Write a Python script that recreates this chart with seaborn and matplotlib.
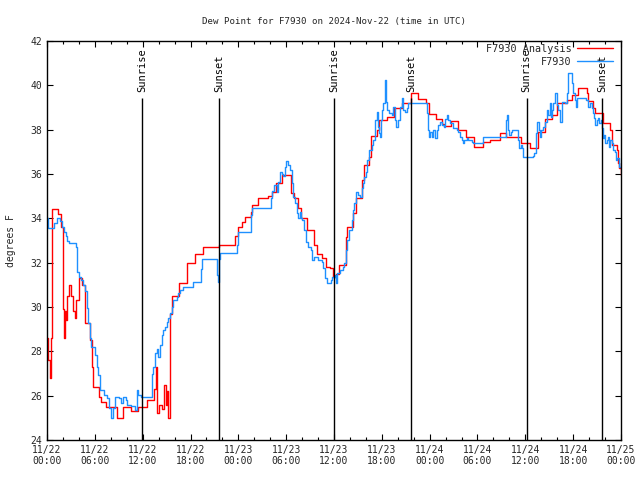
import matplotlib
matplotlib.use("Agg")
import matplotlib.pyplot as plt
from matplotlib.ticker import MultipleLocator
import seaborn as sns
import pandas as pd

# ----------------------------
# data (hours since 11/22 00:00 UTC, degrees F)
# ----------------------------
analysis_hours = [
    0.0, 0.15, 0.35, 0.45, 0.6, 1.38, 1.7, 2.05, 2.13, 2.25, 2.4, 2.55, 2.76, 2.97,
    3.2, 3.47, 3.7, 4.01, 4.4, 4.72, 5.35, 5.6, 5.73, 6.5, 6.73, 7.36, 8.4, 8.74,
    9.53, 10.58, 11.46, 12.59, 13.42, 13.67, 13.85, 14.1, 14.4, 14.72, 14.9, 15.01,
    15.18, 15.43, 15.68, 16.6, 17.52, 18.56, 19.61, 21.62, 23.58, 23.92, 24.42,
    24.84, 25.59, 25.76, 26.51, 27.68, 28.18, 28.68, 29.44, 30.61, 31.03, 31.44,
    31.86, 32.57, 33.53, 33.83, 34.54, 34.96, 35.5, 35.92, 36.25, 36.67, 37.51,
    37.67, 38.43, 38.76, 39.47, 39.76, 40.43, 40.6, 41.35, 41.69, 42.61, 43.53,
    44.49, 45.66, 46.58, 47.54, 47.92, 48.75, 49.59, 49.84, 50.68, 51.51, 52.56,
    53.6, 54.65, 55.57, 56.82, 57.54, 59.5, 60.59, 61.63, 62.47, 63.31, 63.93,
    65.19, 65.81, 66.65, 67.7, 67.9, 68.53, 68.74, 69.79, 70.62, 70.83, 71.46,
    71.67, 71.79, 71.95,
]
analysis_values = [
    28.6, 27.6, 26.8, 28.6, 34.4, 34.2, 33.6, 29.9, 28.6, 29.8, 29.4, 30.5, 31.0, 30.5,
    29.8, 29.5, 30.3, 31.3, 31.0, 29.3, 28.5, 27.3, 26.4, 25.95, 25.7, 25.5, 25.5, 25.0,
    25.5, 25.3, 25.5, 25.8, 26.3, 27.3, 25.2, 25.6, 25.4, 26.5, 25.6, 26.2,
    25.0, 29.7, 30.5, 31.1, 32.0, 32.4, 32.7, 32.8, 33.2, 33.6, 33.85,
    34.08, 34.3, 34.6, 34.9, 35.0, 35.2, 35.58, 35.95, 35.13, 34.9, 34.45,
    34.0, 33.47, 32.8, 32.4, 32.2, 31.8, 31.75, 31.37, 31.5, 31.9, 33.17,
    33.62, 34.22, 34.9, 35.73, 36.4, 36.78, 37.7, 38.0, 38.43, 38.59, 38.96,
    39.19, 39.64, 39.4, 39.2, 38.7, 38.47, 38.26, 38.17, 38.4, 37.99, 37.65,
    37.23, 37.46, 37.53, 37.83, 37.65, 37.38, 37.16, 37.9, 38.47, 38.66, 39.19,
    39.34, 39.56, 39.86, 39.64, 39.3, 38.96, 38.74, 38.29, 38.0, 37.3, 37.08,
    36.48, 36.26, 35.95,
]

station_hours = [
    0.0, 0.13, 0.88, 1.21, 1.63, 1.92, 2.13, 2.34, 2.55, 2.76, 3.6, 3.72, 3.8, 4.01,
    4.31, 4.56, 4.72, 4.98, 5.18, 5.35, 5.56, 5.98, 6.23, 6.44, 6.65, 7.15, 7.48,
    7.78, 7.99, 8.32, 8.49, 9.03, 9.24, 9.49, 9.87, 10.08, 10.58, 11.0, 11.33,
    11.46, 11.75, 13.13, 13.34, 13.55, 13.76, 13.97, 14.17, 14.38, 14.59, 14.8,
    15.01, 15.22, 15.43, 15.64, 15.85, 16.27, 16.47, 16.68, 17.02, 18.36, 19.28,
    19.44, 21.37, 21.49, 21.62, 21.7, 23.79, 24.0, 25.59, 25.76, 28.1, 28.27,
    28.52, 28.81, 29.02, 29.23, 29.44, 29.64, 29.85, 30.02, 30.19, 30.48, 30.69,
    30.82, 31.11, 31.32, 31.53, 31.74, 31.86, 32.03, 32.28, 32.45, 32.78, 33.12,
    33.28, 33.53, 33.95, 34.45, 34.66, 34.87, 35.08, 35.62, 35.79, 36.13, 36.25,
    36.42, 36.75, 37.09, 37.26, 37.51, 37.67, 37.92, 38.22, 38.43, 38.51, 38.76,
    39.05, 39.26, 39.47, 39.6, 39.76, 39.97, 40.18, 40.43, 40.73, 40.93, 41.14,
    41.35, 41.48, 41.6, 41.77, 41.9, 42.06, 42.19, 42.4, 42.52, 42.69, 42.94,
    43.23, 43.44, 43.65, 43.78, 44.07, 44.28, 44.49, 44.7, 44.91, 45.12, 45.32,
    47.63, 47.75, 47.83, 47.92, 48.04, 48.25, 48.46, 48.67, 48.88, 49.09, 49.3,
    49.59, 49.84, 49.92, 50.13, 50.34, 50.55, 50.97, 51.39, 51.6, 51.81, 52.02,
    52.22, 52.35, 52.64, 52.85, 53.27, 53.48, 54.73, 57.54, 57.66, 57.79, 57.95,
    58.2, 58.37, 59.12, 59.25, 59.42, 59.54, 59.75, 60.92, 61.09, 61.34, 61.51,
    61.68, 61.84, 61.93, 62.26, 62.47, 62.68, 62.89, 63.1, 63.26, 63.39, 63.51,
    63.72, 63.93, 64.14, 64.35, 64.56, 64.98, 65.19, 65.4, 65.81, 66.02, 66.23,
    66.36, 66.52, 67.61, 67.9, 68.11, 68.32, 68.53, 68.62, 68.74, 68.95, 69.16,
    69.29, 69.49, 69.66, 69.74, 69.87, 70.04, 70.2, 70.33, 70.46, 70.62, 70.83,
    71.04, 71.25, 71.37, 71.54, 71.71, 71.79, 71.95,
]
station_values = [
    34.0, 33.55, 33.8, 34.03, 33.9, 33.62, 33.4, 33.22, 33.0, 32.9, 32.7, 32.27, 31.6, 31.37,
    31.2, 31.0, 30.7, 29.94, 29.3, 28.59, 28.21, 27.84, 27.3, 26.93, 26.26, 26.03, 25.88,
    25.43, 25.0, 25.43, 25.95, 25.88, 25.65, 25.95, 25.8, 25.6, 25.55, 25.35, 26.26,
    26.03, 25.95, 27.0, 27.3, 27.91, 28.1, 27.75, 28.3, 28.74, 28.97, 29.1,
    29.34, 29.5, 29.72, 30.0, 30.32, 30.47, 30.65, 30.77, 30.89, 31.14, 31.7,
    32.15, 31.44, 31.14, 32.15, 32.42, 32.8, 33.4, 34.15, 34.45, 34.9, 35.25,
    35.5, 35.2, 35.65, 36.1, 36.0, 35.9, 36.33, 36.6, 36.4, 36.2, 35.6,
    34.98, 34.68, 34.23, 34.0, 34.3, 34.0, 33.92, 33.47, 32.95, 32.72, 32.57,
    32.12, 32.27, 32.12, 32.05, 31.75, 31.3, 31.07, 31.22, 31.37, 31.45, 31.1,
    31.52, 31.67, 31.82, 31.97, 32.57, 33.02, 33.47, 33.92, 34.38, 34.68, 35.2,
    35.05, 34.98, 35.36, 35.58, 35.88, 36.1, 36.63, 37.08, 37.3, 37.53, 38.43,
    38.81, 38.13, 37.83, 37.69, 38.43, 38.88, 39.19, 40.24, 39.26, 38.88, 38.74,
    38.66, 39.03, 38.43, 38.14, 38.43, 39.03, 39.41, 38.88, 38.8, 39.0, 39.19,
    38.74, 38.3, 37.99, 37.69, 37.9, 37.69, 37.99, 37.62, 37.99, 38.21, 38.36,
    38.21, 38.14, 38.48, 38.66, 38.43, 38.28, 38.06, 37.99, 37.91, 37.69, 37.53,
    37.38, 37.53, 37.61, 37.53, 37.46, 37.38, 37.65, 38.43, 38.66, 37.99, 37.76,
    37.91, 37.99, 37.53, 37.16, 37.31, 37.16, 36.75, 36.79, 36.94, 37.83, 38.36,
    37.98, 37.68, 37.98, 38.13, 38.36, 38.88, 38.66, 39.19, 38.59, 38.88, 39.19,
    39.64, 39.11, 38.88, 38.36, 39.26, 39.19, 39.64, 40.54, 40.1, 39.64, 39.34,
    39.04, 39.41, 39.34, 39.04, 39.19, 38.96, 38.74, 38.51, 38.21, 38.43, 38.51,
    38.29, 38.43, 38.06, 37.61, 37.76, 37.38, 37.53, 37.68, 37.23, 37.53, 37.38,
    37.08, 37.0, 36.63, 36.71, 36.48, 36.33, 36.5,
]

sun_hours = [11.95, 21.6, 36.0, 45.65, 60.15, 69.65]
sun_labels = ["Sunrise", "Sunset", "Sunrise", "Sunset", "Sunrise", "Sunset"]

tick_hours = list(range(0, 73, 6))
tick_labels = [
    "11/22\n00:00", "11/22\n06:00", "11/22\n12:00", "11/22\n18:00",
    "11/23\n00:00", "11/23\n06:00", "11/23\n12:00", "11/23\n18:00",
    "11/24\n00:00", "11/24\n06:00", "11/24\n12:00", "11/24\n18:00",
    "11/25\n00:00",
]

analysis = pd.DataFrame({"hour": analysis_hours, "dewpoint": analysis_values})
station = pd.DataFrame({"hour": station_hours, "dewpoint": station_values})

# ----------------------------
# plot
# ----------------------------
sns.set_style("ticks")
plt.rcParams["font.family"] = ["DejaVu Sans Mono"]
plt.rcParams["font.size"] = 6.5

fig = plt.figure(figsize=(6.4, 4.8), dpi=100)
ax = fig.add_axes([47 / 640, 1 - 440 / 480, 574 / 640, 399 / 480])

sns.lineplot(data=analysis, x="hour", y="dewpoint", ax=ax, color="#ff0000",
             lw=1.0, drawstyle="steps-post", label="F7930 Analysis")
sns.lineplot(data=station, x="hour", y="dewpoint", ax=ax, color="#1e90ff",
             lw=1.0, drawstyle="steps-post", label="F7930")

top_of_line = 39.43
ax.vlines(sun_hours, 24, top_of_line, color="black", lw=1.0)
for h, name in zip(sun_hours, sun_labels):
    ax.text(h, top_of_line + 0.27, name, rotation=90, ha="center", va="bottom",
            fontsize=7.5, color="black")

ax.set_xlim(0, 72)
ax.set_ylim(24, 42)
ax.set_xticks(tick_hours)
ax.set_xticklabels(tick_labels)
ax.xaxis.set_minor_locator(MultipleLocator(2))
ax.yaxis.set_major_locator(MultipleLocator(2))
ax.tick_params(which="both", direction="in", top=True, right=True, color="black",
               labelsize=7)
ax.tick_params(which="major", length=4, width=0.8)
ax.tick_params(which="minor", length=2, width=0.8)
for side in ax.spines.values():
    side.set_color("black")
    side.set_linewidth(1.0)

ax.set_xlabel("")
ax.set_ylabel("degrees F", fontsize=7, labelpad=10)
ax.set_title("Dew Point for F7930 on 2024-Nov-22 (time in UTC)", fontsize=6.6, pad=12)

ax.legend(loc="upper right", bbox_to_anchor=(0.997, 1.008), frameon=False,
          markerfirst=False, fontsize=7.3, handlelength=3.6, handletextpad=0.5,
          labelspacing=0.3, borderaxespad=0.2)

fig.savefig("out.png", dpi=100)
